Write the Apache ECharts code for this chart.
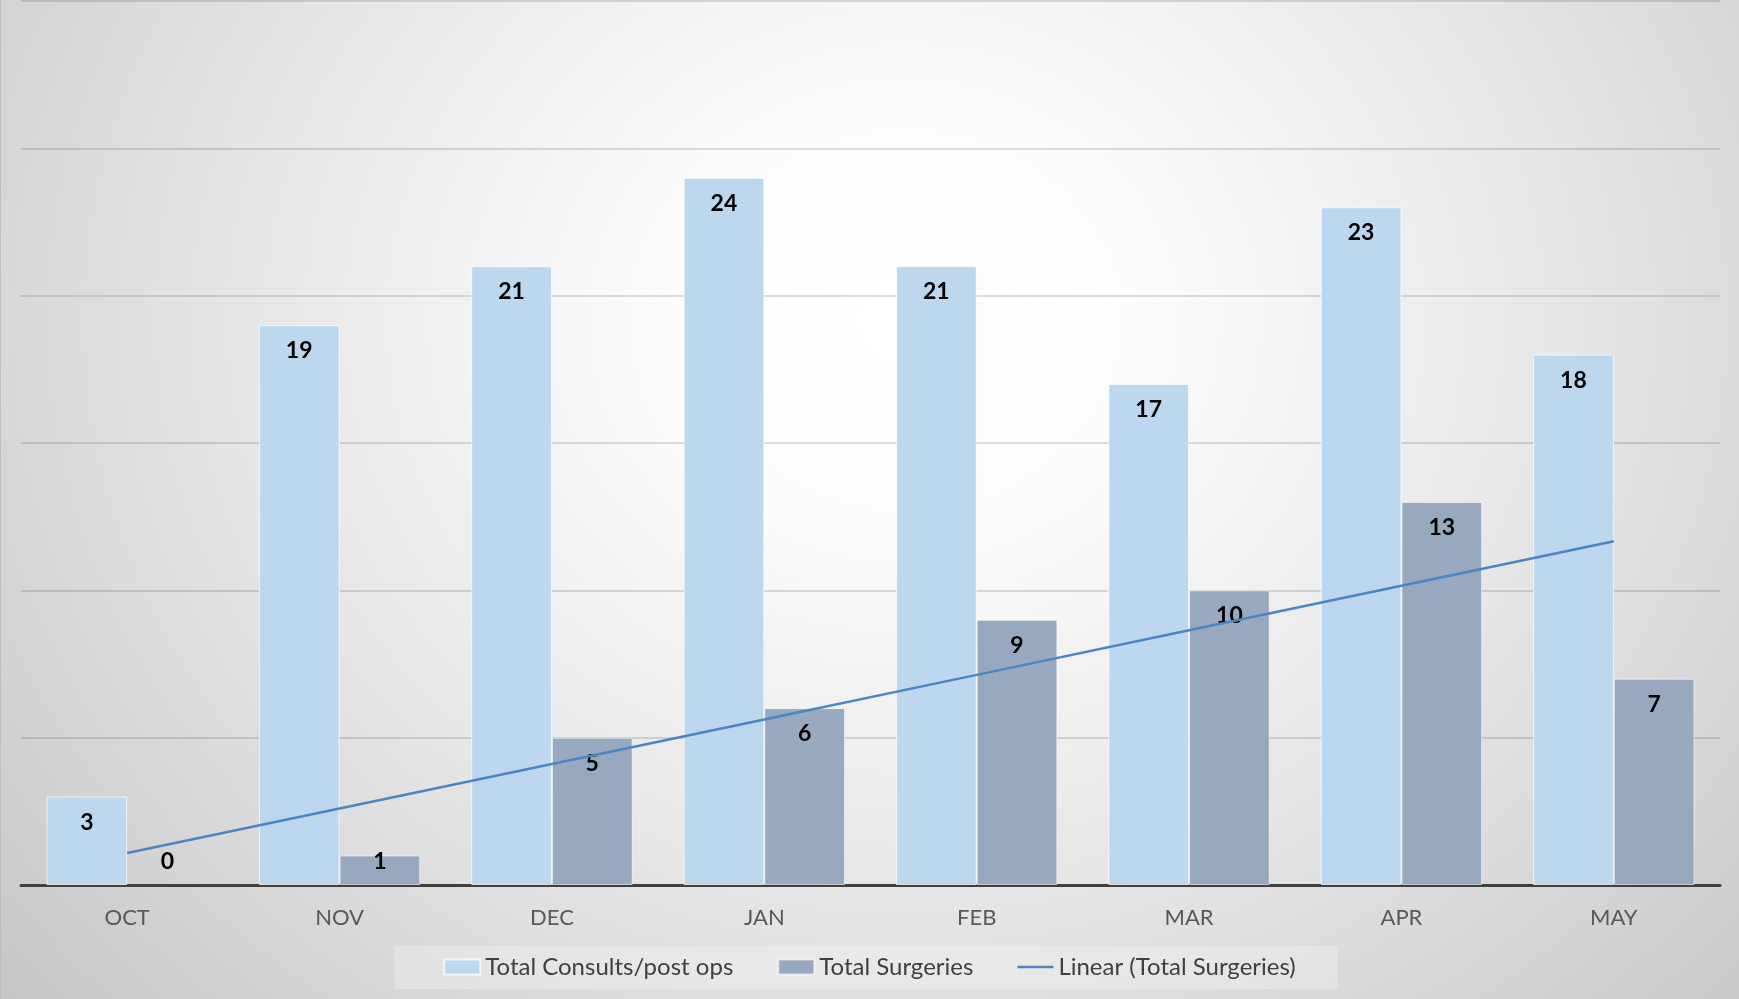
<!DOCTYPE html>
<html>
<head>
<meta charset="utf-8">
<script src="https://cdn.jsdelivr.net/npm/echarts@6/dist/echarts.min.js"></script>
<style>
html,body{margin:0;padding:0;width:1739px;height:999px;overflow:hidden;}
#bg{position:absolute;left:0;top:0;width:1739px;height:999px;box-sizing:border-box;border-left:1px solid #bdbdbd;
 background:radial-gradient(ellipse 1200px 1050px at 52% 32%, #ffffff 0%, #fcfcfc 20%, #e6e6e6 55%, #c6c6c6 100%);}
#chart{position:absolute;left:0;top:0;width:1739px;height:999px;}
</style>
</head>
<body>
<div id="bg"></div>
<div id="chart"></div>
<script>
const categories = ['OCT','NOV','DEC','JAN','FEB','MAR','APR','MAY'];
const consults = [3, 19, 21, 24, 21, 17, 23, 18];
const surgeries = [0, 1, 5, 6, 9, 10, 13, 7];
const seriesNames = ['Total Consults/post ops', 'Total Surgeries', 'Linear (Total Surgeries)'];

// Linear trend line (least squares) of surgeries, as in the spreadsheet trendline
const n = surgeries.length;
const mx = (n + 1) / 2;
const my = surgeries.reduce((a, b) => a + b, 0) / n;
let sxy = 0, sxx = 0;
surgeries.forEach((y, i) => { const dx = (i + 1) - mx; sxy += dx * (y - my); sxx += dx * dx; });
const slope = sxy / sxx, intercept = my - slope * mx;
const trend = surgeries.map((_, i) => +(intercept + slope * (i + 1)).toFixed(3));

const font = 'Lato, "Open Sans", "Liberation Sans", sans-serif';
const labelBase = { show: true, color: '#000', fontWeight: 'bold', fontSize: 23, fontFamily: font };
function barData(vals) {
  return vals.map(v => {
    if (v === 0) return { value: v, itemStyle: { borderWidth: 0 }, label: { position: 'insideBottom', distance: 12 } };
    if (v < 2) return { value: v, label: { position: 'insideBottom', distance: 12 } };
    return { value: v };
  });
}

const chart = echarts.init(document.getElementById('chart'));
chart.setOption({
  backgroundColor: 'transparent',
  animation: false,
  grid: { left: 21, right: 19, top: 1, bottom: 114, containLabel: false },
  legend: {
    left: 'center', top: 946,
    backgroundColor: 'rgba(255,255,255,0.25)',
    padding: [9, 42, 10, 49],
    itemGap: 44, itemWidth: 36, itemHeight: 15,
    textStyle: { fontFamily: font, fontSize: 24, color: '#404040' },
    data: [
      { name: seriesNames[0], icon: 'rect' },
      { name: seriesNames[1], icon: 'rect' },
      { name: seriesNames[2], icon: 'path://M0,0H40V3H0Z' }
    ]
  },
  xAxis: {
    type: 'category', data: categories, boundaryGap: true,
    axisLine: { lineStyle: { color: '#404040', width: 3 } },
    axisTick: { show: false },
    axisLabel: { fontFamily: font, fontSize: 22, color: '#595959', margin: 22 }
  },
  yAxis: {
    type: 'value', min: 0, max: 30, interval: 5,
    axisLabel: { show: false }, axisLine: { show: false }, axisTick: { show: false },
    splitLine: { lineStyle: { color: 'rgba(0,0,0,0.17)', width: 1.5 } }
  },
  series: [
    {
      name: seriesNames[0], type: 'bar', data: barData(consults),
      barGap: '0%', barCategoryGap: '24%',
      itemStyle: { color: '#BDD7EE', borderColor: 'rgba(255,255,255,0.7)', borderWidth: 1 },
      label: Object.assign({ position: 'insideTop', distance: 14 }, labelBase)
    },
    {
      name: seriesNames[1], type: 'bar', data: barData(surgeries),
      barGap: '0%', barCategoryGap: '24%',
      itemStyle: { color: '#98A8BE', borderColor: 'rgba(255,255,255,0.6)', borderWidth: 1 },
      label: Object.assign({ position: 'insideTop', distance: 14 }, labelBase)
    },
    {
      name: seriesNames[2], type: 'line', data: trend,
      symbol: 'none', z: 2,
      lineStyle: { color: '#4A86C4', width: 2.5 },
      itemStyle: { color: '#4A86C4' }
    }
  ]
});
</script>
</body>
</html>
